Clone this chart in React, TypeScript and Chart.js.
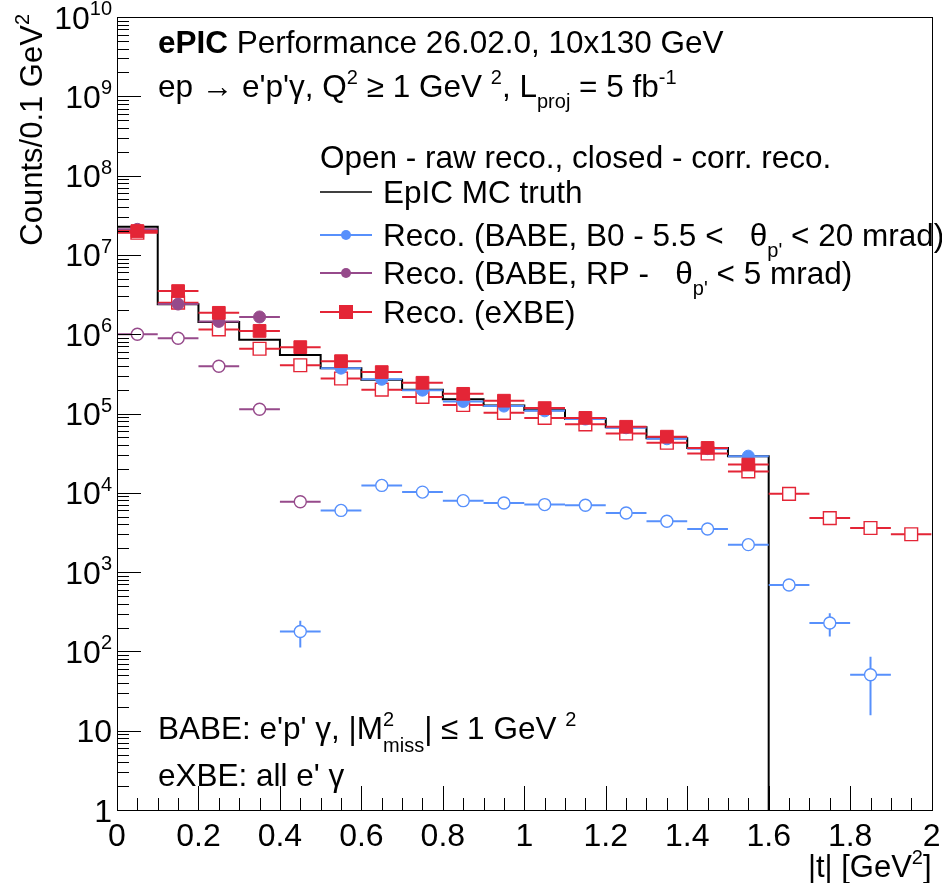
import React, { useEffect, useRef } from "react";
import { Chart, registerables } from "chart.js";

Chart.register(...registerables);

const FONT = '"Liberation Sans", Arial, Helvetica, sans-serif';

// ---------------- data ----------------
const BIN_WIDTH = 0.1;
const T_CENTERS = [0.05, 0.15, 0.25, 0.35, 0.45, 0.55, 0.65, 0.75, 0.85, 0.95,
  1.05, 1.15, 1.25, 1.35, 1.45, 1.55, 1.65, 1.75, 1.85, 1.95];

// EpIC MC truth (histogram)
const MC_TRUTH = [2.26e7, 2.38e6, 1.42e6, 8.5e5, 5.45e5, 3.73e5, 2.66e5, 2.0e5, 1.51e5, 1.26e5,
  1.1e5, 8.6e4, 6.7e4, 4.87e4, 3.68e4, 2.88e4, 0, 0, 0, 0];

// BABE, B0 (5.5 < theta < 20 mrad)
const B0_RAW = [null, null, null, null, 178, 6.0e3, 1.24e4, 1.02e4, 7.96e3, 7.45e3,
  7.1e3, 6.96e3, 5.57e3, 4.37e3, 3.5e3, 2.22e3, 687, 228, 50.7, null];
const B0_RAW_ERR = [null, null, null, null, 66, null, null, null, null, null,
  null, null, null, null, null, null, 40, 74, 35, null];
const B0_CORR = [null, null, null, null, null, 3.73e5, 2.7e5, 1.97e5, 1.42e5, 1.24e5,
  1.08e5, 8.5e4, 6.6e4, 4.8e4, 3.6e4, 2.9e4, null, null, null, null];

// BABE, RP (theta < 5 mrad)
const RP_RAW = [1.0e6, 8.9e5, 3.95e5, 1.13e5, 7.7e3, null, null, null, null, null,
  null, null, null, null, null, null, null, null, null, null];
const RP_CORR = [2.1e7, 2.4e6, 1.45e6, 1.65e6, null, null, null, null, null, null,
  null, null, null, null, null, null, null, null, null, null];

// eXBE
const EXBE_RAW = [1.9e7, 2.5e6, 1.15e6, 6.56e5, 4.06e5, 2.76e5, 2.0e5, 1.62e5, 1.28e5, 1.02e5,
  8.8e4, 7.3e4, 5.6e4, 4.27e4, 3.13e4, 1.86e4, 9.7e3, 4.8e3, 3.6e3, 3.0e3];
const EXBE_CORR = [2.0e7, 3.5e6, 1.86e6, 1.1e6, 6.87e5, 4.57e5, 3.33e5, 2.44e5, 1.77e5, 1.45e5,
  1.17e5, 8.8e4, 6.8e4, 5.1e4, 3.68e4, 2.27e4, null, null, null, null];

const X_TICK_VALUES = [0, 0.2, 0.4, 0.6, 0.8, 1, 1.2, 1.4, 1.6, 1.8, 2];
const X_TICK_LABELS = ["0", "0.2", "0.4", "0.6", "0.8", "1", "1.2", "1.4", "1.6", "1.8", "2"];
const X_MINOR_STEP = 0.05;
const Y_DECADES = [0, 1, 2, 3, 4, 5, 6, 7, 8, 9, 10];

const X_MIN = 0, X_MAX = 2, Y_MIN = 1, Y_MAX = 1e10;

const BLUE = "#5790fc";
const PURPLE = "#964a8b";
const RED = "#e42536";

const LEGEND_LABELS = [
  "EpIC MC truth",
  "Reco. (BABE, B0 - 5.5 <   θ|p'| < 20 mrad)",
  "Reco. (BABE, RP -   θ|p'| < 5 mrad)",
  "Reco. (eXBE)",
];

// ---------------- helpers ----------------
type Seg = { t: string; k?: "n" | "b" | "sup" | "sub" | "stack"; t2?: string };

function segFont(size: number, k?: string) {
  if (k === "b") return `bold ${size}px ${FONT}`;
  if (k === "sup" || k === "sub" || k === "stack") return `${Math.round(size * 0.64)}px ${FONT}`;
  return `${size}px ${FONT}`;
}

function segWidth(ctx: CanvasRenderingContext2D, s: Seg, size: number) {
  ctx.font = segFont(size, s.k);
  if (s.k === "stack") return Math.max(ctx.measureText(s.t).width, ctx.measureText(s.t2 || "").width);
  return ctx.measureText(s.t).width;
}

function rich(ctx: CanvasRenderingContext2D, segs: Seg[], x: number, y: number, size: number, align: "left" | "right" = "left") {
  const total = segs.reduce((a, s) => a + segWidth(ctx, s, size), 0);
  let cx = align === "right" ? x - total : x;
  ctx.textAlign = "left";
  ctx.textBaseline = "alphabetic";
  for (const s of segs) {
    const w = segWidth(ctx, s, size);
    ctx.font = segFont(size, s.k);
    if (s.k === "sup") ctx.fillText(s.t, cx, y - size * 0.42);
    else if (s.k === "sub") ctx.fillText(s.t, cx, y + size * 0.36);
    else if (s.k === "stack") {
      ctx.fillText(s.t, cx, y - size * 0.42);
      ctx.fillText(s.t2 || "", cx, y + size * 0.4);
    } else ctx.fillText(s.t, cx, y);
    cx += w;
  }
}

function parseLabel(label: string): Seg[] {
  // "|...|" marks a subscript
  const parts = label.split("|");
  return parts.map((p, i) => ({ t: p, k: i % 2 === 1 ? "sub" : "n" } as Seg));
}

type Pt = { x: number; y: number; xErr: number; yErr: number | null };

function buildPoints(vals: (number | null)[], errs?: (number | null)[]): Pt[] {
  const out: Pt[] = [];
  T_CENTERS.forEach((t, i) => {
    const v = vals[i];
    if (v != null && v > 0) out.push({ x: t, y: v, xErr: BIN_WIDTH / 2, yErr: errs ? errs[i] : null });
  });
  return out;
}

function buildStep(vals: number[]) {
  const pts: { x: number; y: number }[] = [];
  let last = -1;
  vals.forEach((v, i) => {
    if (v > 0) {
      pts.push({ x: T_CENTERS[i] - BIN_WIDTH / 2, y: v });
      last = i;
    }
  });
  if (last >= 0) {
    pts.push({ x: T_CENTERS[last] + BIN_WIDTH / 2, y: vals[last] });
    pts.push({ x: T_CENTERS[last] + BIN_WIDTH / 2, y: Y_MIN });
  }
  return pts;
}

const CIRCLE_R = 6;
const RECT_R = 9;

function markerDataset(label: string, vals: (number | null)[], color: string, open: boolean, style: "circle" | "rect", order: number, errs?: (number | null)[]) {
  const r = style === "circle" ? CIRCLE_R : RECT_R;
  const half = style === "circle" ? CIRCLE_R : RECT_R * Math.SQRT1_2;
  return {
    type: "scatter" as const,
    label,
    data: buildPoints(vals, errs),
    showLine: false,
    order,
    borderColor: color,
    backgroundColor: color,
    pointStyle: style,
    pointRadius: r,
    pointBorderColor: color,
    pointBackgroundColor: open ? "rgba(255,255,255,0)" : color,
    pointBorderWidth: open ? 1.4 : 1,
    errorBars: { gap: open ? half : 0, color },
  };
}

// ---------------- plugin ----------------
const rootPlugin = {
  id: "rootStyle",
  beforeDatasetDraw(chart: any, args: any) {
    const ds = chart.data.datasets[args.index];
    const eb = ds.errorBars;
    if (!eb) return;
    const { ctx, chartArea: a } = chart;
    const xs = chart.scales.x, ys = chart.scales.y;
    ctx.save();
    ctx.beginPath();
    ctx.rect(a.left, a.top, a.right - a.left, a.bottom - a.top);
    ctx.clip();
    ctx.strokeStyle = eb.color;
    ctx.lineWidth = 2;
    ctx.lineCap = "butt";
    for (const p of ds.data as Pt[]) {
      const px = xs.getPixelForValue(p.x);
      const py = ys.getPixelForValue(p.y);
      const x0 = xs.getPixelForValue(p.x - p.xErr);
      const x1 = xs.getPixelForValue(p.x + p.xErr);
      const g = eb.gap;
      ctx.beginPath();
      ctx.moveTo(x0, py); ctx.lineTo(px - g, py);
      ctx.moveTo(px + g, py); ctx.lineTo(x1, py);
      if (p.yErr) {
        const yt = ys.getPixelForValue(p.y + p.yErr);
        const yb = ys.getPixelForValue(Math.max(p.y - p.yErr, Y_MIN));
        if (yt < py - g) { ctx.moveTo(px, py - g); ctx.lineTo(px, yt); }
        if (yb > py + g) { ctx.moveTo(px, py + g); ctx.lineTo(px, yb); }
      }
      ctx.stroke();
    }
    ctx.restore();
  },
  afterDraw(chart: any) {
    const { ctx, chartArea: a } = chart;
    const xs = chart.scales.x, ys = chart.scales.y;
    ctx.save();
    ctx.fillStyle = "#000";
    ctx.strokeStyle = "#000";

    // frame
    ctx.lineWidth = 1;
    ctx.strokeRect(Math.round(a.left) + 0.5, Math.round(a.top) + 0.5, Math.round(a.right - a.left), Math.round(a.bottom - a.top));

    // y ticks (log)
    ctx.beginPath();
    for (const n of Y_DECADES) {
      const y = Math.round(ys.getPixelForValue(Math.pow(10, n))) + 0.5;
      ctx.moveTo(a.left, y); ctx.lineTo(a.left + 24, y);
      if (n < Y_DECADES[Y_DECADES.length - 1]) {
        for (let m = 2; m <= 9; m++) {
          const ym = Math.round(ys.getPixelForValue(m * Math.pow(10, n))) + 0.5;
          ctx.moveTo(a.left, ym); ctx.lineTo(a.left + 12, ym);
        }
      }
    }
    // x ticks
    const nMinor = Math.round((X_MAX - X_MIN) / X_MINOR_STEP);
    for (let k = 0; k <= nMinor; k++) {
      const v = X_MIN + k * X_MINOR_STEP;
      const x = Math.round(xs.getPixelForValue(v)) + 0.5;
      const len = k % 4 === 0 ? 24 : 12;
      ctx.moveTo(x, a.bottom); ctx.lineTo(x, a.bottom - len);
    }
    ctx.stroke();

    // y tick labels
    const LS = 32;
    for (const n of Y_DECADES) {
      const y = ys.getPixelForValue(Math.pow(10, n));
      const base = y + LS * 0.36;
      if (n === 0) rich(ctx, [{ t: "1" }], 112, base, LS, "right");
      else if (n === 1) rich(ctx, [{ t: "10" }], 112, base, LS, "right");
      else rich(ctx, [{ t: "10" }, { t: String(n), k: "sup" }], 112, base, LS, "right");
    }
    // x tick labels
    ctx.font = `${LS}px ${FONT}`;
    ctx.textAlign = "center";
    ctx.textBaseline = "alphabetic";
    X_TICK_VALUES.forEach((v, i) => {
      ctx.fillText(X_TICK_LABELS[i], xs.getPixelForValue(v), 846);
    });

    // axis titles
    rich(ctx, [{ t: "|t| [GeV" }, { t: "2", k: "sup" }, { t: "]" }], a.right, 877, 31, "right");
    ctx.save();
    ctx.translate(42, a.top - 3);
    ctx.rotate(-Math.PI / 2);
    rich(ctx, [{ t: "Counts/0.1 GeV" }, { t: "2", k: "sup" }], 0, 0, 31, "right");
    ctx.restore();

    // header texts
    const TS = 31.5;
    rich(ctx, [{ t: "ePIC", k: "b" }, { t: " Performance 26.02.0, 10x130 GeV" }], 158, 53, TS);
    rich(ctx, [
      { t: "ep → e'p'γ, Q" }, { t: "2", k: "sup" }, { t: " ≥ 1 GeV " }, { t: "2", k: "sup" },
      { t: ", L" }, { t: "proj", k: "sub" }, { t: " = 5 fb" }, { t: "-1", k: "sup" },
    ], 158, 97, TS);

    // legend
    rich(ctx, [{ t: "Open - raw reco., closed - corr. reco." }], 320, 168, TS);
    const rows = [203, 246, 284, 323];
    const colors = ["#000", BLUE, PURPLE, RED];
    rows.forEach((ry, i) => {
      const cy = ry - 11;
      ctx.strokeStyle = colors[i];
      ctx.fillStyle = colors[i];
      ctx.lineWidth = i === 0 ? 1.6 : 2;
      ctx.beginPath();
      ctx.moveTo(320, cy); ctx.lineTo(372, cy);
      ctx.stroke();
      if (i === 1 || i === 2) {
        ctx.beginPath(); ctx.arc(346, cy, 5, 0, Math.PI * 2); ctx.fill();
      } else if (i === 3) {
        ctx.fillRect(339, cy - 7, 14, 14);
      }
      ctx.fillStyle = "#000";
      rich(ctx, parseLabel(LEGEND_LABELS[i]), 383, ry, TS);
    });

    // bottom texts
    rich(ctx, [
      { t: "BABE: e'p' γ, |M" }, { t: "2", k: "stack", t2: "miss" }, { t: "| ≤ 1 GeV " }, { t: "2", k: "sup" },
    ], 158, 739, TS);
    rich(ctx, [{ t: "eXBE: all e' γ" }], 158, 786, TS);

    ctx.restore();
  },
};

export default function App() {
  const ref = useRef<HTMLCanvasElement>(null);
  useEffect(() => {
    const canvas = ref.current;
    if (!canvas) return;
    const datasets: any[] = [
      {
        type: "scatter",
        label: "EpIC MC truth",
        data: buildStep(MC_TRUTH),
        showLine: true,
        stepped: "before",
        order: 7,
        borderColor: "#000",
        borderWidth: 2,
        pointRadius: 0,
        fill: false,
      },
      markerDataset("B0 raw", B0_RAW, BLUE, true, "circle", 6, B0_RAW_ERR),
      markerDataset("RP raw", RP_RAW, PURPLE, true, "circle", 5),
      markerDataset("eXBE raw", EXBE_RAW, RED, true, "rect", 4),
      markerDataset("B0 corr", B0_CORR, BLUE, false, "circle", 3),
      markerDataset("RP corr", RP_CORR, PURPLE, false, "circle", 2),
      markerDataset("eXBE corr", EXBE_CORR, RED, false, "rect", 1),
    ];
    const chart = new Chart(canvas, {
      type: "scatter",
      data: { datasets },
      options: {
        animation: false,
        responsive: false,
        devicePixelRatio: 1,
        events: [],
        layout: { padding: { left: 117, top: 17, right: 10, bottom: 73 } },
        scales: {
          x: { type: "linear", min: X_MIN, max: X_MAX, display: false },
          y: { type: "logarithmic", min: Y_MIN, max: Y_MAX, display: false },
        },
        plugins: { legend: { display: false }, tooltip: { enabled: false } },
      },
      plugins: [rootPlugin],
    } as any);
    return () => chart.destroy();
  }, []);
  return (
    <div style={{ position: "absolute", left: 0, top: 0, width: 942, height: 883, background: "#fff" }}>
      <canvas ref={ref} width={942} height={883} style={{ display: "block" }} />
    </div>
  );
}
